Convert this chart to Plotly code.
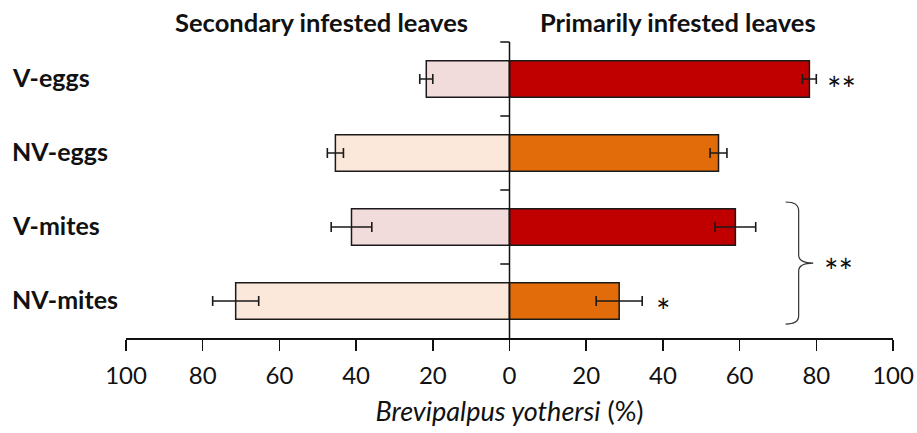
import plotly.graph_objects as go

categories = ["V-eggs", "NV-eggs", "V-mites", "NV-mites"]
secondary = [21.7, 45.4, 41.2, 71.4]
secondary_err = [1.7, 2.1, 5.3, 6.0]
primary = [78.2, 54.5, 58.9, 28.6]
primary_err = [1.8, 2.2, 5.3, 6.0]
secondary_colors = ["#F2DCDB", "#FCE8DA", "#F2DCDB", "#FCE8DA"]
primary_colors = ["#C00000", "#E36C0A", "#C00000", "#E36C0A"]
tick_vals = [-100, -80, -60, -40, -20, 0, 20, 40, 60, 80, 100]
tick_text = ["100", "80", "60", "40", "20", "0", "20", "40", "60", "80", "100"]
significance = ["**", "", "", "*"]

FONT = "Lato"
W, H = 917, 433
L, R, T, B = 126, 24, 42, 95
PW = W - L - R

fig = go.Figure()
fig.add_trace(go.Bar(
    y=categories, x=[-v for v in secondary], orientation="h", width=0.49,
    marker=dict(color=secondary_colors, line=dict(color="#1a1a1a", width=1.5)),
    error_x=dict(type="data", array=secondary_err, symmetric=True,
                 color="#1a1a1a", thickness=1.6, width=5),
    name="Secondary infested leaves", showlegend=False,
))
fig.add_trace(go.Bar(
    y=categories, x=primary, orientation="h", width=0.49,
    marker=dict(color=primary_colors, line=dict(color="#1a1a1a", width=1.5)),
    error_x=dict(type="data", array=primary_err, symmetric=True,
                 color="#1a1a1a", thickness=1.6, width=5),
    name="Primarily infested leaves", showlegend=False,
))

annotations = []
for c in categories:
    annotations.append(dict(
        x=(10 - L) / PW, xref="paper", y=c, yref="y",
        text=f"<b>{c}</b>", showarrow=False, xanchor="left", yanchor="middle",
        yshift=2, font=dict(family=FONT, size=25, color="#111"),
    ))
# significance stars
for c, v, e, s in zip(categories, primary, primary_err, significance):
    if s:
        annotations.append(dict(
            x=v + e, xref="x", y=c, yref="y", text=s, showarrow=False,
            xanchor="left", yanchor="middle", xshift=12 if s == "*" else 9, yshift=-9,
            font=dict(family=FONT, size=34, color="#111"),
        ))
annotations.append(dict(
    x=81.5, xref="x", y=0.253, yref="paper", text="**", showarrow=False,
    xanchor="left", yanchor="middle", yshift=-7,
    font=dict(family=FONT, size=34, color="#111"),
))
# panel headers
annotations.append(dict(
    x=-49, xref="x", y=1, yref="paper", yshift=20, text="<b>Secondary infested leaves</b>",
    showarrow=False, xanchor="center", yanchor="middle",
    font=dict(family=FONT, size=25.5, color="#111"),
))
annotations.append(dict(
    x=44, xref="x", y=1, yref="paper", yshift=20, text="<b>Primarily infested leaves</b>",
    showarrow=False, xanchor="center", yanchor="middle",
    font=dict(family=FONT, size=25.5, color="#111"),
))

shapes = [
    dict(type="line", xref="x", yref="paper", x0=0, x1=0, y0=0, y1=1,
         line=dict(color="#111", width=1.5)),
]
for yp in [0.25, 0.5, 0.75, 1.0]:
    shapes.append(dict(type="line", xref="x", yref="paper", x0=-2.4, x1=0, y0=yp, y1=yp,
                       line=dict(color="#111", width=1.5)))
# brace
shapes.append(dict(
    type="path", xref="x", yref="paper",
    path="M 72.0,0.4595 Q 75.4,0.4595 75.4,0.43 L 75.4,0.28 Q 75.4,0.253 79.2,0.253 "
         "Q 75.4,0.253 75.4,0.226 L 75.4,0.075 Q 75.4,0.047 72.0,0.047",
    line=dict(color="#333", width=1.2),
))

fig.update_layout(
    width=W, height=H, margin=dict(l=L, r=R, t=T, b=B, autoexpand=False),
    paper_bgcolor="white", plot_bgcolor="white",
    barmode="overlay", bargap=0.5,
    font=dict(family=FONT, color="#111"),
    annotations=annotations, shapes=shapes,
    xaxis=dict(
        range=[-100, 100], tickvals=tick_vals, ticktext=tick_text,
        showgrid=False, zeroline=False, showline=True, linecolor="#111", linewidth=1.5,
        ticks="outside", ticklen=11, tickwidth=1.5, tickcolor="#111",
        tickfont=dict(family=FONT, size=24, color="#111"), ticklabelstandoff=5,
        title=dict(text="<i>Brevipalpus yothersi</i> (%)", standoff=14,
                   font=dict(family=FONT, size=27, color="#111")),
        automargin=False, fixedrange=True,
    ),
    yaxis=dict(
        categoryorder="array", categoryarray=categories, autorange="reversed",
        showticklabels=False, showgrid=False, zeroline=False, showline=False, ticks="",
        automargin=False, fixedrange=True,
    ),
)

fig.write_html(
    "out.html",
    config={"displayModeBar": False, "staticPlot": True},
    post_script="document.body.style.margin='0';document.body.style.overflow='hidden';",
)
